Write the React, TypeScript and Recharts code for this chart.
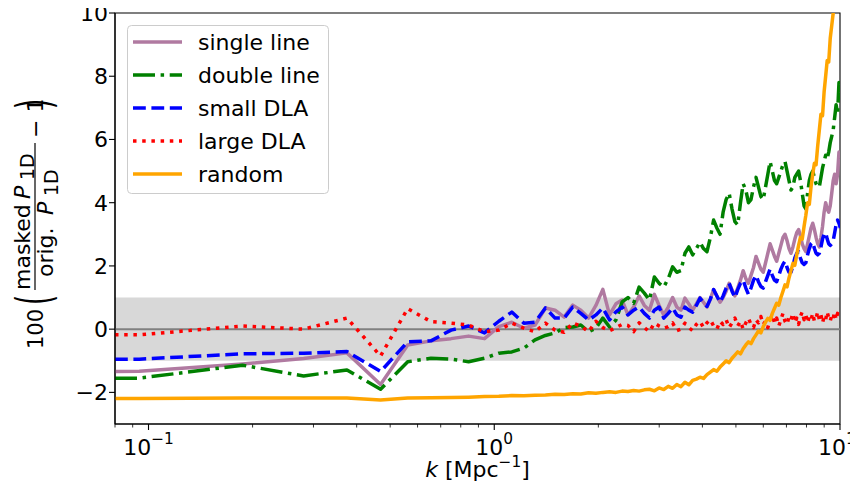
import React from 'react';
import { LineChart, Line, XAxis, YAxis, ReferenceArea, ReferenceLine, Legend } from 'recharts';

const kValues = [0.08,
  0.094, 0.187, 0.281, 0.375, 0.469, 0.562, 0.656, 0.750, 0.843, 0.937,
  1.031, 1.124, 1.218, 1.312, 1.406, 1.499, 1.593, 1.687, 1.780, 1.874,
  1.968, 2.061, 2.155, 2.249, 2.343, 2.436, 2.530, 2.624, 2.717, 2.811,
  2.905, 2.998, 3.092, 3.186, 3.280, 3.373, 3.467, 3.561, 3.654, 3.748,
  3.842, 3.935, 4.029, 4.123, 4.217, 4.310, 4.404, 4.498, 4.591, 4.685,
  4.779, 4.872, 4.966, 5.060, 5.154, 5.247, 5.341, 5.435, 5.528, 5.622,
  5.716, 5.809, 5.903, 5.997, 6.091, 6.184, 6.278, 6.372, 6.465, 6.559,
  6.653, 6.746, 6.840, 6.934, 7.028, 7.121, 7.215, 7.309, 7.402, 7.496,
  7.590, 7.683, 7.777, 7.871, 7.965, 8.058, 8.152, 8.246, 8.339, 8.433,
  8.527, 8.620, 8.714, 8.808, 8.902, 8.995, 9.089, 9.183, 9.276, 9.370,
  9.464, 9.557, 9.651, 9.745, 9.839, 9.932, 10.026];

const singleLine = [
  -1.34, -1.33, -1.10, -0.93, -0.75, -1.75, -0.50, -0.37, -0.30, -0.22,
  -0.30, 0.08, 0.22, 0.03, 0.13, 0.67, 0.60, 0.38, 0.76, 0.60,
  0.35, 0.75, 1.26, 0.45, 0.80, 0.92, 0.45, 0.70, 1.05, 0.75,
  0.60, 1.10, 0.75, 0.45, 0.70, 1.00, 0.70, 0.60, 0.98, 0.80,
  0.60, 0.80, 1.00, 0.85, 0.70, 0.95, 1.25, 1.05, 0.85, 1.00,
  1.20, 1.45, 1.25, 1.05, 1.30, 1.55, 1.85, 1.60, 1.45, 1.70,
  1.95, 2.30, 2.10, 1.90, 1.80, 2.10, 2.40, 2.70, 2.50, 2.30,
  2.15, 2.40, 2.65, 2.90, 3.00, 2.80, 2.55, 2.40, 2.60, 2.85,
  3.05, 3.15, 2.95, 2.70, 2.55, 2.45, 2.70, 2.95, 3.20, 3.35,
  3.15, 2.90, 2.70, 2.60, 2.90, 3.25, 3.70, 4.00, 3.80, 3.70,
  3.90, 4.30, 4.70, 4.90, 4.60, 4.90, 5.60, 5.40];

const doubleLine = [
  -1.55, -1.55, -1.14, -1.48, -1.29, -1.90, -1.03, -0.92, -0.95, -1.03,
  -0.92, -0.76, -0.72, -0.60, -0.34, -0.20, -0.12, 0.05, 0.07, 0.13,
  -0.08, 0.03, 0.35, 0.07, 0.29, 0.86, 1.00, 0.82, 1.33, 1.14,
  0.92, 1.65, 1.45, 1.33, 1.60, 1.97, 1.80, 1.85, 2.40, 2.60,
  2.35, 2.55, 2.75, 2.55, 2.45, 2.90, 3.45, 3.20, 3.00, 3.70,
  4.10, 4.30, 3.80, 3.40, 3.30, 4.00, 4.60, 4.40, 4.00, 4.10,
  4.50, 4.80, 4.50, 4.20, 4.10, 4.50, 4.90, 5.30, 5.00, 4.70,
  4.60, 4.80, 5.00, 5.20, 5.30, 5.00, 4.70, 4.40, 4.50, 4.80,
  4.90, 5.00, 4.70, 4.30, 3.90, 3.80, 4.30, 4.70, 4.90, 5.00,
  4.80, 4.60, 4.50, 4.50, 4.80, 5.10, 5.30, 5.50, 5.40, 5.60,
  5.90, 6.10, 6.30, 6.70, 7.10, 6.80, 7.80, 7.50];

const smallDLA = [
  -0.95, -0.95, -0.78, -0.76, -0.71, -1.34, -0.40, -0.37, -0.03, 0.10,
  -0.12, 0.25, 0.54, 0.19, 0.22, 0.67, 0.35, 0.35, 0.70, 0.50,
  0.29, 0.45, 0.67, 0.29, 0.55, 0.70, 0.45, 0.60, 0.70, 0.50,
  0.35, 0.60, 0.70, 0.35, 0.50, 0.67, 0.45, 0.38, 0.70, 0.60,
  0.54, 0.75, 0.98, 0.85, 0.72, 0.95, 1.25, 1.05, 0.85, 1.05,
  1.30, 1.45, 1.20, 1.00, 1.25, 1.45, 1.55, 1.30, 1.10, 1.30,
  1.55, 1.70, 1.50, 1.35, 1.30, 1.50, 1.70, 1.90, 1.70, 1.55,
  1.50, 1.70, 1.90, 2.05, 2.15, 1.95, 1.80, 1.80, 2.00, 2.25,
  2.40, 2.45, 2.25, 2.10, 2.05, 2.10, 2.35, 2.55, 2.70, 2.75,
  2.55, 2.40, 2.35, 2.40, 2.60, 2.85, 3.00, 3.05, 2.85, 2.70,
  2.65, 2.70, 2.80, 3.05, 3.30, 3.45, 3.35, 3.20];

const largeDLA = [
  -0.18, -0.18, 0.10, 0.00, 0.35, -0.85, 0.65, 0.24, 0.19, 0.13,
  -0.08, -0.03, 0.19, 0.03, -0.08, 0.19, -0.03, -0.10, 0.19, 0.10,
  -0.08, 0.25, 0.05, -0.05, 0.05, 0.15, 0.12, -0.08, 0.20, 0.05,
  -0.08, 0.19, 0.10, 0.03, 0.08, 0.20, -0.05, 0.00, 0.19, 0.05,
  -0.05, 0.15, 0.25, 0.05, 0.20, 0.30, 0.10, 0.00, 0.25, 0.15,
  0.30, 0.05, 0.20, 0.35, 0.10, 0.25, 0.00, 0.20, 0.35, 0.15,
  0.05, 0.30, 0.20, 0.40, 0.15, 0.25, 0.05, 0.30, 0.45, 0.20,
  0.35, 0.10, 0.30, 0.50, 0.25, 0.15, 0.40, 0.30, 0.50, 0.20,
  0.35, 0.15, 0.40, 0.55, 0.30, 0.45, 0.20, 0.40, 0.30, 0.50,
  0.25, 0.35, 0.55, 0.30, 0.45, 0.20, 0.40, 0.30, 0.55, 0.35,
  0.25, 0.45, 0.35, 0.55, 0.30, 0.50, 0.40, 0.35];

const randomMask = [
  -2.19, -2.19, -2.18, -2.18, -2.18, -2.24, -2.18, -2.17, -2.16, -2.15,
  -2.13, -2.12, -2.10, -2.11, -2.09, -2.08, -2.06, -2.07, -2.04, -2.05,
  -2.01, -2.03, -2.00, -1.98, -2.00, -1.96, -1.97, -1.94, -1.96, -1.92,
  -1.90, -1.95, -1.86, -1.91, -1.81, -1.87, -1.75, -1.82, -1.68, -1.76,
  -1.62, -1.58, -1.52, -1.56, -1.44, -1.36, -1.28, -1.33, -1.20, -1.10,
  -1.00, -1.06, -0.92, -0.82, -0.72, -0.78, -0.62, -0.50, -0.40, -0.46,
  -0.30, -0.18, -0.06, -0.12, 0.08, 0.22, 0.34, 0.28, 0.50, 0.66,
  0.82, 0.76, 1.00, 1.20, 1.40, 1.34, 1.62, 1.85, 2.08, 2.02,
  2.35, 2.65, 2.90, 2.85, 3.25, 3.60, 4.00, 3.95, 4.50, 4.90,
  5.25, 5.20, 5.80, 6.30, 6.80, 6.75, 7.50, 8.00, 8.50, 8.45,
  9.20, 9.60, 10.00, 10.10, 10.60, 10.90, 11.20, 11.40];

const xMajorTicks = [0.1, 1, 10];
const xMajorExponents = ['−1', '0', '1'];
const xMinorTicks = [0.08, 0.09, 0.2, 0.3, 0.4, 0.5, 0.6, 0.7, 0.8, 0.9, 2, 3, 4, 5, 6, 7, 8, 9];
const yTicks = [-2, 0, 2, 4, 6, 8, 10];

const series = [
  { key: 'single', name: 'single line', color: '#b07aa1', dash: undefined as string | undefined },
  { key: 'double', name: 'double line', color: '#008000', dash: '22 5.6 3.5 5.6' },
  { key: 'small', name: 'small DLA', color: '#0000ff', dash: '12.8 5.6' },
  { key: 'large', name: 'large DLA', color: '#ff0000', dash: '3.5 5.7' },
  { key: 'random', name: 'random', color: '#ffa500', dash: undefined as string | undefined },
];

const data = kValues.map((k, i) => ({
  k,
  single: singleLine[i],
  double: doubleLine[i],
  small: smallDLA[i],
  large: largeDLA[i],
  random: randomMask[i],
}));

const FONT = 'DejaVu Sans';
const FS = 22;
const W = 858;
const H = 492;

const fmtY = (v: number) => (v < 0 ? '−' + Math.abs(v) : String(v));

const XTick = (props: any) => {
  const { x, y, payload } = props;
  const v = payload.value;
  const mi = xMajorTicks.indexOf(v);
  const major = mi >= 0;
  const lx = Math.min(x, W - 21);
  return (
    <g>
      <line x1={x} x2={x} y1={y} y2={y + (major ? 6 : 3.5)} stroke="#000" strokeWidth={major ? 1.1 : 0.8} />
      {major && (
        <text x={lx} y={y + 31} textAnchor="middle" fontSize={FS} fontFamily={FONT} fill="#000">
          10<tspan fontSize={15.4} dy={-11}>{xMajorExponents[mi]}</tspan>
        </text>
      )}
    </g>
  );
};

const XLabel = (props: any) => {
  const vb = props.viewBox || { x: 115, y: 424, width: 725 };
  const cx = vb.x + vb.width / 2;
  const y = vb.y + 53;
  return (
    <text x={cx} y={y} textAnchor="middle" fontSize={FS} fontFamily={FONT} fill="#000">
      <tspan fontStyle="italic">k</tspan> [Mpc<tspan fontSize={15.4} dy={-10}>−1</tspan><tspan dy={10}>]</tspan>
    </text>
  );
};

const YLabel = (props: any) => {
  const vb = props.viewBox || { x: 0, y: 13, width: 115, height: 411 };
  const cx = 35;
  const cy = vb.y + vb.height / 2 + 1.5;
  return (
    <g transform={`translate(${cx},${cy}) rotate(-90)`} fontFamily={FONT} fill="#000">
      <text x={-89} y={8} fontSize={21} textAnchor="end">100</text>
      <text transform="translate(-80,16) scale(1,1.85)" fontSize={26} textAnchor="middle">(</text>
      <text x={-70} y={-5} fontSize={FS}>masked</text>
      <text x={21} y={-5} fontSize={FS} fontStyle="italic">P</text>
      <text x={40} y={-1} fontSize={19}>1D</text>
      <line x1={-70} x2={77} y1={0} y2={0} stroke="#000" strokeWidth={1.2} />
      <text x={-57} y={18} fontSize={FS}>orig.</text>
      <text x={5} y={18} fontSize={FS} fontStyle="italic">P</text>
      <text x={24} y={23} fontSize={19}>1D</text>
      <text x={82} y={8} fontSize={FS}>− 1</text>
      <text transform="translate(116,16) scale(1,1.85)" fontSize={26} textAnchor="middle">)</text>
    </g>
  );
};

const LegendBox = () => (
  <svg width={202} height={169} style={{ display: 'block' }}>
    <rect x={0.5} y={0.5} width={201} height={168} rx={4} ry={4} fill="rgba(255,255,255,0.8)" stroke="#cccccc" strokeWidth={1} />
    {series.map((s, i) => {
      const yy = 17 + i * 33;
      return (
        <g key={s.key}>
          <line x1={6} x2={55} y1={yy} y2={yy} stroke={s.color} strokeWidth={3.5} strokeDasharray={s.dash} />
          <text x={71} y={yy + 8} fontSize={FS} fontFamily={FONT} fill="#000">{s.name}</text>
        </g>
      );
    })}
  </svg>
);

export default function App() {
  return (
    <div style={{ position: 'relative', width: W, height: H, margin: -8 }}>
      <LineChart width={W} height={H} data={data} margin={{ top: 13, right: 18, bottom: 0, left: 0 }}>
        <XAxis
          dataKey="k"
          type="number"
          scale="log"
          domain={[0.08, 10]}
          allowDataOverflow
          ticks={[...xMajorTicks, ...xMinorTicks]}
          interval={0}
          tick={<XTick />}
          tickLine={false}
          tickSize={0}
          tickMargin={0}
          height={68}
          axisLine={{ stroke: '#000', strokeWidth: 1.1 }}
          label={<XLabel />}
        />
        <YAxis
          type="number"
          domain={[-3, 10]}
          allowDataOverflow
          ticks={yTicks}
          interval={0}
          width={115}
          tickSize={6}
          tickMargin={1}
          tick={{ fontSize: FS, fill: '#000', fontFamily: FONT }}
          tickFormatter={fmtY}
          tickLine={{ stroke: '#000', strokeWidth: 1.1 }}
          axisLine={{ stroke: '#000', strokeWidth: 1.1 }}
          label={<YLabel />}
        />
        <ReferenceArea y1={-1} y2={1} fill="#d8d8d8" fillOpacity={1} stroke="none" />
        <ReferenceLine y={0} stroke="#808080" strokeWidth={2} />
        {series.map((s) => (
          <Line
            key={s.key}
            dataKey={s.key}
            name={s.name}
            stroke={s.color}
            strokeWidth={3.5}
            strokeDasharray={s.dash}
            strokeLinejoin="round"
            dot={false}
            activeDot={false}
            isAnimationActive={false}
            type="linear"
          />
        ))}
        <ReferenceArea x1={0.08} x2={10} y1={-3} y2={10} fill="none" stroke="#000" strokeWidth={1.1} />
        <Legend
          layout="vertical"
          align="center"
          verticalAlign="middle"
          content={<LegendBox />}
          wrapperStyle={{ left: 127, top: 25, width: 202, height: 169 }}
        />
      </LineChart>
    </div>
  );
}
